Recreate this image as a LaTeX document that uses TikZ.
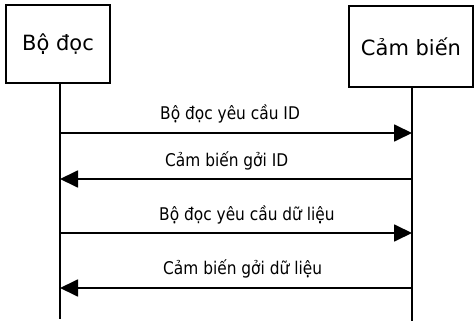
\documentclass[tikz,border=0pt]{standalone}
\usepackage{fontspec}
\setmainfont{DejaVu Sans}
\newfontfamily\lblfont[FakeStretch=0.88]{DejaVu Sans}
\usetikzlibrary{arrows.meta}
\begin{document}
\begin{tikzpicture}[x=1pt,y=-1pt,
  actor/.style={draw,line width=2.2pt,inner sep=0pt,font=\fontsize{21}{25}\selectfont},
  life/.style={line width=1.8pt},
  msg/.style={line width=1.8pt,-{Triangle[length=18pt,width=17pt]}},
  lbl/.style={anchor=base west,inner sep=0pt,font=\lblfont\fontsize{17.5}{20}\selectfont}]
\useasboundingbox (0,0) rectangle (474,323);
\node[actor,minimum width=104pt,minimum height=78pt] (reader) at (58,44) {Bộ đọc};
\node[actor,minimum width=124pt,minimum height=81pt] (sensor) at (411,46.5) {Cảm biến};
\coordinate (Lend) at (60,319);
\coordinate (Rend) at (412,321);
\draw[life] (reader.south -| Lend) -- (Lend);
\draw[life] (sensor.south -| Rend) -- (Rend);
\coordinate (L1) at (60,133); \coordinate (R1) at (412,133);
\coordinate (L2) at (60,179); \coordinate (R2) at (412,179);
\coordinate (L3) at (60,233); \coordinate (R3) at (412,233);
\coordinate (L4) at (60,288); \coordinate (R4) at (412,288);
\draw[msg] (L1) -- (R1);
\draw[msg] (R2) -- (L2);
\draw[msg] (L3) -- (R3);
\draw[msg] (R4) -- (L4);
\node[lbl] (m1) at (160,120) {Bộ đọc yêu cầu ID};
\node[lbl] (m2) at (165,167) {Cảm biến gởi ID};
\node[lbl] (m3) at (159,221) {Bộ đọc yêu cầu dữ liệu};
\node[lbl] (m4) at (163,275) {Cảm biến gởi dữ liệu};
\end{tikzpicture}
\end{document}
